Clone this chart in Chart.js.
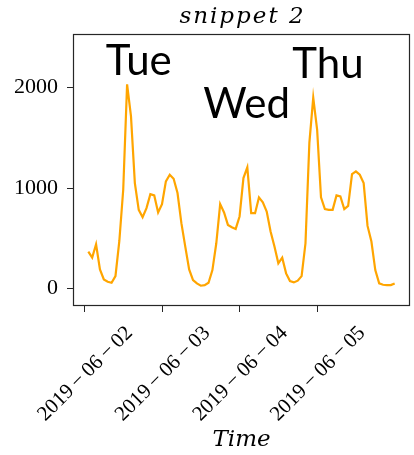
<!DOCTYPE html>
<html><head><meta charset="utf-8">
<script src="https://cdn.jsdelivr.net/npm/chart.js@4"></script>
<style>html,body{margin:0;padding:0;background:#fff}</style>
</head><body>
<canvas id="c" width="414" height="455"></canvas>
<script>
// ---- data ----
const titleText = 'snippet 2';
const xTitleText = 'Time';
const tickDays = [0, 1, 2, 3];
const tickLabels = ['2019−06−02', '2019−06−03', '2019−06−04', '2019−06−05'];
const yTickValues = [0, 1000, 2000];
const firstSampleDay = 0.05;   // days after 2019-06-02 00:00
const sampleStepDays = 0.05;   // sampling interval (72 min)
const values = [
  367, 307, 440, 190, 90, 67, 57, 123, 473, 983,
  2033, 1717, 1050, 783, 710, 800, 940, 927, 757, 840,
  1067, 1133, 1093, 950, 650, 417, 190, 83, 50, 27,
  33, 57, 183, 450, 840, 757, 633, 610, 593, 717,
  1100, 1207, 750, 750, 907, 857, 767, 567, 417, 250,
  307, 150, 73, 60, 77, 123, 450, 1450, 1900, 1583,
  907, 790, 783, 783, 927, 917, 790, 823, 1140, 1167,
  1133, 1050, 623, 467, 183, 50, 37, 33, 33, 50
];
const dayNames = ['Tue', 'Wed', 'Thu'];
const dayNameX = [0.70, 2.09, 3.14];
const dayNameY = [2129, 1703, 2092];

const points = values.map((v, i) => ({ x: firstSampleDay + i * sampleStepDays, y: v }));

const serif = '"Liberation Serif", serif';
const italicSerif = 'DejaVu Serif';
const frameColor = '#262626';

const framePlugin = {
  id: 'frame',
  afterDraw(chart) {
    const { ctx, chartArea: a } = chart;
    ctx.save();
    ctx.strokeStyle = frameColor;
    ctx.lineWidth = 1.2;
    ctx.strokeRect(Math.round(a.left) + 0.5, Math.round(a.top) + 0.5,
      Math.round(a.right - a.left) - 1, Math.round(a.bottom - a.top) - 1);
    ctx.restore();
  }
};
const textPlugin = {
  id: 'texts',
  afterDraw(chart) {
    const { ctx, chartArea: a } = chart;
    const xs = chart.scales.x, ys = chart.scales.y;
    ctx.save();
    ctx.fillStyle = '#000';
    // title
    ctx.font = 'italic 23px "' + italicSerif + '"';
    ctx.textAlign = 'center';
    ctx.textBaseline = 'alphabetic';
    if ('letterSpacing' in ctx) ctx.letterSpacing = '2px';
    ctx.fillText(titleText, (a.left + a.right) / 2 + 1, a.top - 11);
    if ('letterSpacing' in ctx) ctx.letterSpacing = '0px';
    // day annotations
    ctx.font = '42px Lato';
    dayNames.forEach((t, i) => {
      ctx.fillText(t, xs.getPixelForValue(dayNameX[i]), ys.getPixelForValue(dayNameY[i]));
    });
    ctx.restore();
  }
};

new Chart(document.getElementById('c'), {
  type: 'line',
  data: {
    datasets: [{
      data: points,
      borderColor: '#FFA500',
      borderWidth: 2.2,
      pointRadius: 0,
      tension: 0,
      fill: false
    }]
  },
  options: {
    responsive: false,
    animation: false,
    layout: { padding: { left: 0, right: 4, top: 34, bottom: 0 } },
    plugins: {
      legend: { display: false },
      tooltip: { enabled: false },
      title: { display: false }
    },
    scales: {
      x: {
        type: 'linear',
        min: -0.1475,
        max: 4.1975,
        afterBuildTicks: s => { s.ticks = tickDays.map(v => ({ value: v })); },
        afterFit: s => { s.height = 149; s.paddingLeft = 0; s.paddingRight = 0; },
        ticks: {
          autoSkip: false,
          minRotation: 45,
          maxRotation: 45,
          labelOffset: 45,
          padding: 9,
          color: '#000',
          font: { family: serif, size: 21 },
          callback: (v, i) => tickLabels[i].replace(/−/g, '\u2009−\u2009')
        },
        grid: { drawOnChartArea: false, drawTicks: true, tickLength: 6, tickColor: frameColor, tickWidth: 1 },
        border: { display: false },
        title: {
          display: true,
          text: xTitleText,
          color: '#000',
          font: { family: italicSerif, style: 'italic', size: 23, lineHeight: 1.2 },
          padding: { top: 0, bottom: 1 }
        }
      },
      y: {
        min: -175,
        max: 2535,
        afterBuildTicks: s => { s.ticks = yTickValues.map(v => ({ value: v })); },
        afterFit: s => { s.width = 73; s.paddingTop = 0; s.paddingBottom = 0; },
        ticks: {
          color: '#000',
          padding: 9,
          font: { family: serif, size: 22 },
          callback: v => String(v)
        },
        grid: { drawOnChartArea: false, drawTicks: true, tickLength: 6, tickColor: frameColor, tickWidth: 1 },
        border: { display: false }
      }
    }
  },
  plugins: [framePlugin, textPlugin]
});
</script>
</body></html>
